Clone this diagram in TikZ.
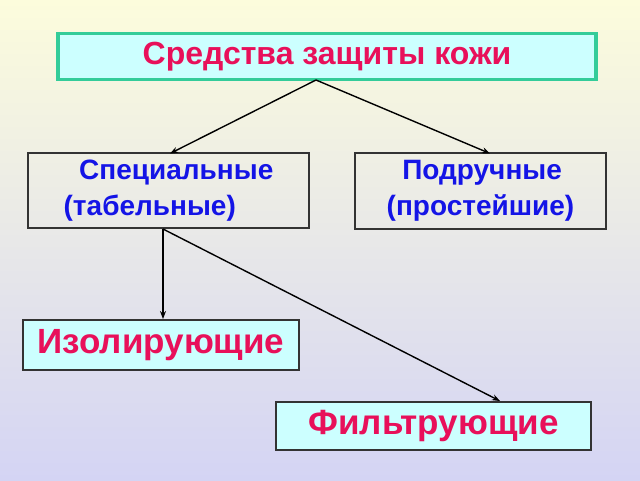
\documentclass[tikz,border=0pt]{standalone}
\usepackage{fontspec}
\setmainfont{Liberation Sans}
\usetikzlibrary{arrows.meta}
\definecolor{bgtop}{HTML}{FCFCDC}
\definecolor{bgbot}{HTML}{D4D4F4}
\definecolor{cyanfill}{HTML}{CCFFFF}
\definecolor{tealb}{HTML}{33CC99}
\definecolor{mag}{HTML}{E8105A}
\definecolor{blu}{HTML}{1414E6}
\begin{document}
\begin{tikzpicture}[x=1pt,y=-1pt,
  box/.style={draw=black!80,line width=2pt,inner sep=0pt,font=\bfseries,align=left},
  arr/.style={-{Stealth[length=8pt,width=6pt]},line width=1.4pt}]
\shade[top color=bgtop,bottom color=bgbot] (0,0) rectangle (640,480);
\useasboundingbox (0,0) rectangle (640,480);
\node[draw=tealb,line width=3.5pt,fill=cyanfill,minimum width=538pt,minimum height=46pt,text=mag,font=\bfseries\fontsize{32}{36}\selectfont] (top) at (327,56.5) {Средства защиты кожи};
\node[box,minimum width=281pt,minimum height=75pt,text=blu,font=\bfseries\fontsize{28}{36}\selectfont] (spec) at (168.5,190.5) {\ \ Специальные\\(табельные)};
\node[box,minimum width=251pt,minimum height=76pt,text=blu,font=\bfseries\fontsize{28}{36}\selectfont] (pod) at (480.5,191) {\ \ Подручные\\(простейшие)};
\node[box,fill=cyanfill,minimum width=276pt,minimum height=50pt,text=mag,font=\bfseries\fontsize{35}{40}\selectfont] (iz) at (161,345) {Изолирующие};
\node[box,fill=cyanfill,minimum width=315pt,minimum height=48pt,text=mag,font=\bfseries\fontsize{35}{40}\selectfont] (fi) at (433.5,426) {Фильтрующие};
\coordinate (t0) at (316,80);
\coordinate (s0) at (163,229);
\coordinate (f0) at (500,402);
\draw[arr] (t0) -- (170,153.5);
\draw[arr] (t0) -- (490,153.5);
\draw[arr] (s0) -- (s0 |- iz.north);
\draw[arr] (s0) -- (f0 |- fi.north);
\end{tikzpicture}
\end{document}
